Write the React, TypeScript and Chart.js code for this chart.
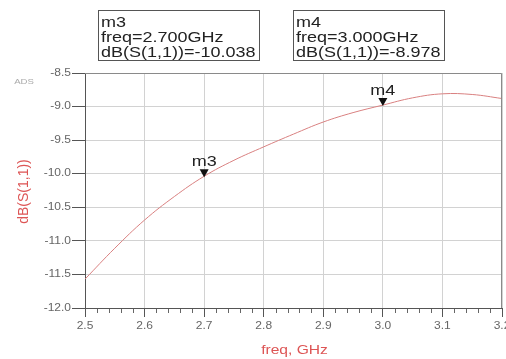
import React, { useEffect, useRef } from "react";
import { Chart, registerables } from "chart.js";

Chart.register(...registerables);

// Swept frequency (GHz) and return loss dB(S(1,1))
const freqGHz = [2.5, 2.55, 2.6, 2.65, 2.7, 2.75, 2.8, 2.85, 2.9, 2.95, 3.0, 3.05, 3.1, 3.15, 3.2];
const s11dB = [-11.57, -11.11, -10.69, -10.34, -10.038, -9.8, -9.6, -9.41, -9.23, -9.09, -8.978, -8.87, -8.81, -8.82, -8.88];

// Markers placed on the trace
const markerNames = ["m3", "m4"];
const markerFreq = [2.7, 3.0];
const markerDb = [-10.038, -8.978];

// Axis ticks
const xTicks = [2.5, 2.6, 2.7, 2.8, 2.9, 3.0, 3.1, 3.2];
const yTicks = [-12.0, -11.5, -11.0, -10.5, -10.0, -9.5, -9.0, -8.5];

const FONT = '"Liberation Sans", Arial, sans-serif';
const STRETCH = 1.2;
const TRACE = "#d98080";
const TITLE_RED = "#dd5555";

function stretchedText(
  ctx: CanvasRenderingContext2D,
  text: string,
  x: number,
  y: number,
  align: "left" | "center" | "right"
) {
  ctx.save();
  ctx.translate(x, y);
  ctx.scale(STRETCH, 1);
  ctx.textAlign = align;
  ctx.fillText(text, 0, 0);
  ctx.restore();
}

const adsDecor = {
  id: "adsDecor",
  afterDraw(chart: any) {
    const ctx: CanvasRenderingContext2D = chart.ctx;
    const { left, right, top, bottom } = chart.chartArea;
    const xs = chart.scales.x;
    const ys = chart.scales.y;

    ctx.save();
    // frame top / right
    ctx.strokeStyle = "#8a8a8a";
    ctx.lineWidth = 1;
    ctx.beginPath();
    ctx.moveTo(left, top + 0.5);
    ctx.lineTo(right - 0.5, top + 0.5);
    ctx.lineTo(right - 0.5, bottom);
    ctx.stroke();

    // minor x ticks
    ctx.strokeStyle = "#666";
    ctx.beginPath();
    for (let i = 0; i < xTicks.length - 1; i++) {
      for (let k = 1; k < 5; k++) {
        const v = xTicks[i] + (k * (xTicks[i + 1] - xTicks[i])) / 5;
        const px = Math.round(xs.getPixelForValue(v)) + 0.5;
        ctx.moveTo(px, bottom + 1);
        ctx.lineTo(px, bottom + 5);
      }
    }
    ctx.stroke();

    // x tick labels
    ctx.fillStyle = "#666";
    ctx.font = `10px ${FONT}`;
    ctx.textBaseline = "middle";
    xTicks.forEach((v) => {
      stretchedText(ctx, v.toFixed(1), xs.getPixelForValue(v), bottom + 18, "center");
    });
    // y tick labels
    yTicks.forEach((v) => {
      stretchedText(ctx, v.toFixed(1), left - 14, ys.getPixelForValue(v), "right");
    });

    // "ADS" tag
    ctx.fillStyle = "#aaa";
    ctx.font = `8px ${FONT}`;
    stretchedText(ctx, "ADS", 24, top + 9, "center");

    // axis titles
    ctx.fillStyle = TITLE_RED;
    ctx.font = `13px ${FONT}`;
    stretchedText(ctx, "freq, GHz", (left + right) / 2 + 1, 350, "center");
    ctx.save();
    ctx.translate(24, (top + bottom) / 2 + 1);
    ctx.rotate(-Math.PI / 2);
    ctx.font = `14px ${FONT}`;
    ctx.textAlign = "center";
    ctx.textBaseline = "middle";
    ctx.fillText("dB(S(1,1))", 0, 0);
    ctx.restore();

    // marker triangles and names
    ctx.textBaseline = "alphabetic";
    markerNames.forEach((name, i) => {
      const px = xs.getPixelForValue(markerFreq[i]);
      const py = ys.getPixelForValue(markerDb[i]);
      ctx.fillStyle = "#111";
      ctx.beginPath();
      ctx.moveTo(px, py + 1);
      ctx.lineTo(px - 4.5, py - 7);
      ctx.lineTo(px + 4.5, py - 7);
      ctx.closePath();
      ctx.fill();
      ctx.fillStyle = "#222";
      ctx.font = `15px ${FONT}`;
      stretchedText(ctx, name, px, py - 10, "center");
    });

    // marker readout boxes
    const boxX = [98, 293];
    markerNames.forEach((name, i) => {
      const lines = [
        name,
        `freq=${markerFreq[i].toFixed(3)}GHz`,
        `dB(S(1,1))=${markerDb[i].toFixed(3)}`,
      ];
      ctx.font = `15px ${FONT}`;
      const w = Math.max(...lines.map((l) => ctx.measureText(l).width)) * STRETCH + 6;
      const bx = boxX[i];
      ctx.fillStyle = "#fff";
      ctx.fillRect(bx, 10, w, 50);
      ctx.strokeStyle = "#555";
      ctx.strokeRect(bx + 0.5, 10.5, Math.round(w), 50);
      ctx.fillStyle = "#222";
      lines.forEach((l, j) => {
        stretchedText(ctx, l, bx + 3, 27 + j * 15, "left");
      });
    });
    ctx.restore();
  },
};

export default function App() {
  const ref = useRef<HTMLCanvasElement | null>(null);

  useEffect(() => {
    if (!ref.current) return;
    const chart = new Chart(ref.current, {
      type: "line",
      data: {
        datasets: [
          {
            data: freqGHz.map((f, i) => ({ x: f, y: s11dB[i] })),
            borderColor: TRACE,
            borderWidth: 1,
            pointRadius: 0,
            tension: 0.4,
            fill: false,
          },
        ],
      },
      options: {
        animation: false,
        responsive: false,
        devicePixelRatio: 1,
        layout: { padding: { top: 73, right: 4, left: 0, bottom: 0 } },
        plugins: { legend: { display: false }, tooltip: { enabled: false } },
        scales: {
          x: {
            type: "linear",
            min: 2.5,
            max: 3.2,
            afterBuildTicks: (s: any) => {
              s.ticks = xTicks.map((v) => ({ value: v }));
            },
            ticks: { display: false },
            grid: {
              color: "#d2d2d2",
              tickColor: "#555",
              tickLength: 9,
              drawTicks: true,
            },
            border: { color: "#555", width: 1 },
            afterFit: (s: any) => {
              s.height = 51;
              s.paddingLeft = 0;
              s.paddingRight = 0;
            },
          },
          y: {
            min: -12,
            max: -8.5,
            afterBuildTicks: (s: any) => {
              s.ticks = yTicks.map((v) => ({ value: v }));
            },
            ticks: { display: false },
            grid: {
              color: "#d2d2d2",
              tickColor: "#555",
              tickLength: 13,
              drawTicks: true,
            },
            border: { color: "#555", width: 1 },
            afterFit: (s: any) => {
              s.width = 85;
              s.paddingTop = 0;
              s.paddingBottom = 0;
            },
          },
        },
      },
      plugins: [adsDecor],
    });
    return () => chart.destroy();
  }, []);

  return (
    <div style={{ position: "fixed", left: 0, top: 0, width: 506, height: 359, background: "#fff" }}>
      <canvas ref={ref} width={506} height={359} style={{ display: "block" }} />
    </div>
  );
}
